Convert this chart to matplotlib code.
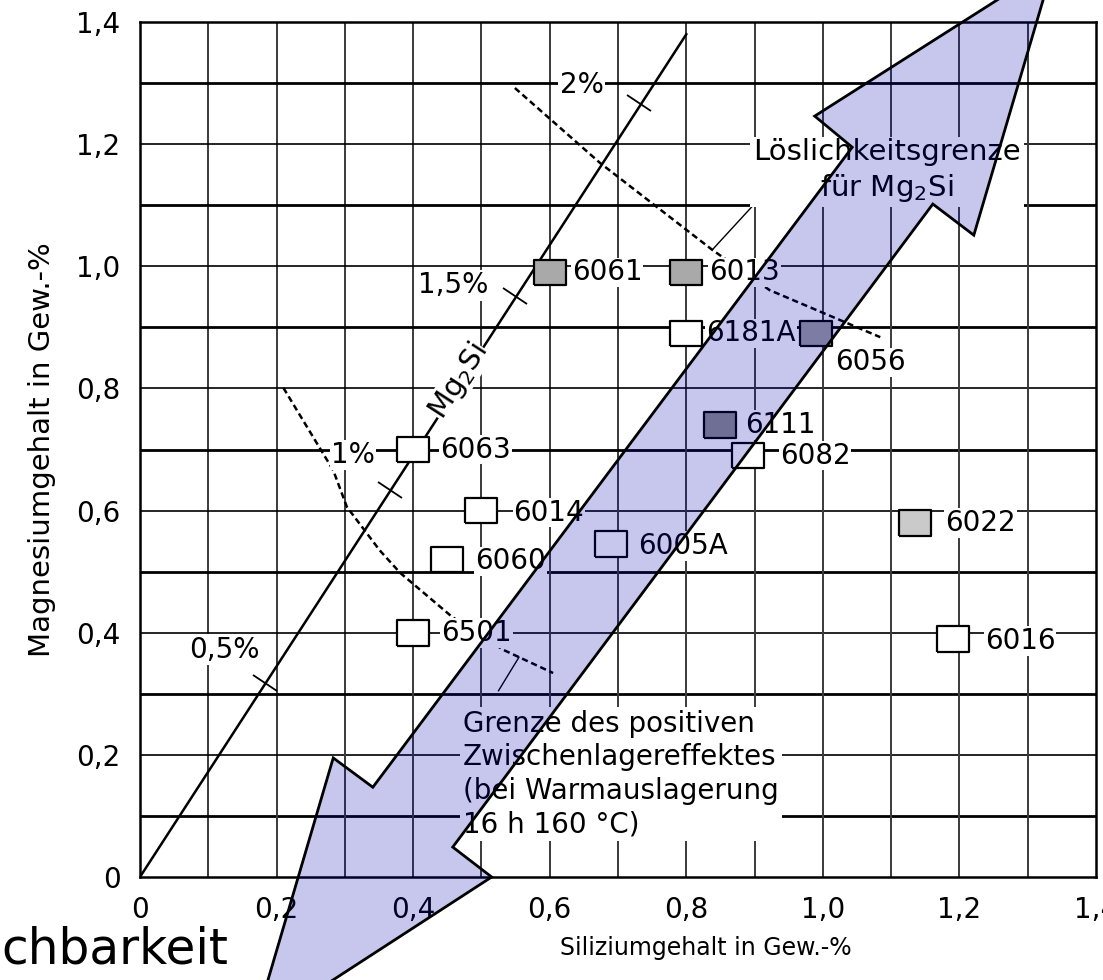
import matplotlib
matplotlib.use("Agg")
import matplotlib.pyplot as plt
import numpy as np
from matplotlib.markers import MarkerStyle
from matplotlib.transforms import Affine2D
from matplotlib.patches import Polygon

# alloys: Si / Mg content (Gew.-%)
alloys = ['6061', '6013', '6181A', '6056', '6111', '6082', '6063',
          '6014', '6060', '6005A', '6501', '6022', '6016']
si = [0.60, 0.80, 0.80, 0.99, 0.85, 0.89, 0.40, 0.50, 0.45, 0.69, 0.40, 1.135, 1.19]
mg = [0.99, 0.99, 0.89, 0.89, 0.74, 0.69, 0.70, 0.60, 0.52, 0.545, 0.40, 0.58, 0.39]
fills = ['#a9a9a9', '#a9a9a9', 'white', '#a0a0a0', '#8f8f8f', 'white', 'white',
         'white', 'white', 'white', 'white', '#cacaca', 'white']

# Mg2Si line with percent marks
mg2si_si = [0.0, 0.8]
mg2si_mg = [0.0, 1.38]
pct_labels = ['0,5%', '1%', '1,5%', '2%']
pct_si = [0.183, 0.366, 0.549, 0.731]
pct_mg = [0.317, 0.634, 0.951, 1.268]

# Löslichkeitsgrenze für Mg2Si (dotted)
solub_si = [0.549, 0.674, 0.838, 0.922, 1.084]
solub_mg = [1.292, 1.169, 1.027, 0.961, 0.884]

# Grenze des positiven Zwischenlagereffektes (dotted)
zwl_si = [0.210, 0.283, 0.303, 0.351, 0.381, 0.457, 0.532, 0.605]
zwl_mg = [0.801, 0.666, 0.606, 0.535, 0.498, 0.426, 0.372, 0.334]

# big double arrow overlay (outline)
arrow_si = [0.165, 0.515, 0.458, 1.161, 1.221, 1.338, 0.988, 1.043, 0.341, 0.283]
arrow_mg = [-0.254, 0.0, 0.049, 1.102, 1.051, 1.495, 1.246, 1.195, 0.147, 0.195]

ticks = [0, 0.2, 0.4, 0.6, 0.8, 1.0, 1.2, 1.4]
tick_labels = ['0', '0,2', '0,4', '0,6', '0,8', '1,0', '1,2', '1,4']

# label layout (pixel offsets from marker centre)
lab_dx = [22, 23, 20, 54, 25, 32, 27, 32, 28, 27, 28, 30, 32]
lab_dy = [0, 0, 0, 29, 0, 0, 0, 2, 2, 2, 0, 0, 2]

fig = plt.figure(figsize=(11.03, 9.8), dpi=100)
ax = fig.add_axes([0.1269, 0.1051, 0.8668, 0.8724])
ax.set_xlim(0, 1.4)
ax.set_ylim(0, 1.4)

# grid every 0.1
for k in range(1, 14):
    v = k / 10
    ax.axvline(v, color='#3a3a3a', lw=1.4, zorder=1)
    ax.axhline(v, color='black', lw=2.0 if k % 2 else 1.2, zorder=1)
for s in ax.spines.values():
    s.set_linewidth(1.8)

ax.set_xticks(ticks)
ax.set_xticklabels(tick_labels)
ax.set_yticks(ticks)
ax.set_yticklabels(tick_labels)
ax.tick_params(length=0, labelsize=20, pad=14)

ax.set_xlabel('Siliziumgehalt in Gew.-%', fontsize=17, va='center')
ax.xaxis.set_label_coords(0.592, -0.083)
ax.set_ylabel('Magnesiumgehalt in Gew.-%', fontsize=21, va='center')
ax.yaxis.set_label_coords(-0.1025, 0.5)

# Mg2Si line
ax.plot(mg2si_si, mg2si_mg, color='black', lw=1.8, zorder=3)
p0 = ax.transData.transform((mg2si_si[0], mg2si_mg[0]))
p1 = ax.transData.transform((mg2si_si[1], mg2si_mg[1]))
ang = np.degrees(np.arctan2(p1[1] - p0[1], p1[0] - p0[0]))
tick_mark = MarkerStyle('_', transform=Affine2D().rotate_deg(ang + 90))
ax.plot(pct_si, pct_mg, ls='none', marker=tick_mark, markersize=20,
        markeredgewidth=1.3, color='black', zorder=3)

bg = dict(facecolor='white', edgecolor='none', pad=1)
pct_pos = [(0.123, 0.372), (0.312, 0.691), (0.459, 0.969), (0.647, 1.297)]
for lab, (x, y) in zip(pct_labels, pct_pos):
    ax.text(x, y, lab, fontsize=20, ha='center', va='center', bbox=bg, zorder=5)
ax.text(0.466, 0.812, 'Mg$_2$Si', fontsize=21, rotation=ang, rotation_mode='anchor',
        ha='center', va='center', bbox=dict(facecolor='white', edgecolor='none', pad=0), zorder=5)

# dotted limit curves and leaders
ax.plot(solub_si, solub_mg, color='black', lw=1.8, ls=(0, (2.5, 1.5)), zorder=3)
ax.plot(zwl_si, zwl_mg, color='black', lw=1.8, ls=(0, (2.5, 1.5)), zorder=3)
ax.plot([0.838, 0.912], [1.027, 1.117], color='black', lw=1.0, zorder=3)
ax.plot([0.525, 0.555], [0.305, 0.36], color='black', lw=1.0, zorder=3)

ax.text(1.094, 1.156, 'Löslichkeitsgrenze\nfür Mg$_2$Si', fontsize=21, ha='center',
        va='center', linespacing=1.25, bbox=dict(facecolor='white', edgecolor='none', pad=2), zorder=5)
ax.text(0.473, 0.169, 'Grenze des positiven\nZwischenlagereffektes\n(bei Warmauslagerung\n16 h 160 °C)',
        fontsize=20, ha='left', va='center', linespacing=1.25,
        bbox=dict(facecolor='white', edgecolor='none', pad=2), zorder=5)

# alloy squares
rect = [(-1, -0.8), (1, -0.8), (1, 0.8), (-1, 0.8), (-1, -0.8)]
ax.scatter(si, mg, s=23 ** 2, marker=rect, c=fills, edgecolors='black',
           linewidths=1.6, zorder=6)
for name, x, y, dx, dy in zip(alloys, si, mg, lab_dx, lab_dy):
    ax.annotate(name, (x, y), xytext=(dx * 0.72, -dy * 0.72), textcoords='offset points',
                fontsize=20, ha='center' if name == '6056' else 'left', va='center',
                bbox=dict(facecolor='white', edgecolor='none', pad=0.5), zorder=6)

# overlay arrow
arrow = Polygon(np.column_stack([arrow_si, arrow_mg]), closed=True,
                facecolor=(0.0, 0.0, 0.7, 0.22), edgecolor='black', lw=2,
                transform=ax.transData, zorder=10)
fig.add_artist(arrow)

fig.text(228 / 1103, 1 - 963 / 980, 'chbarkeit', fontsize=35, ha='right', va='baseline')

fig.savefig('out.png', dpi=100)
